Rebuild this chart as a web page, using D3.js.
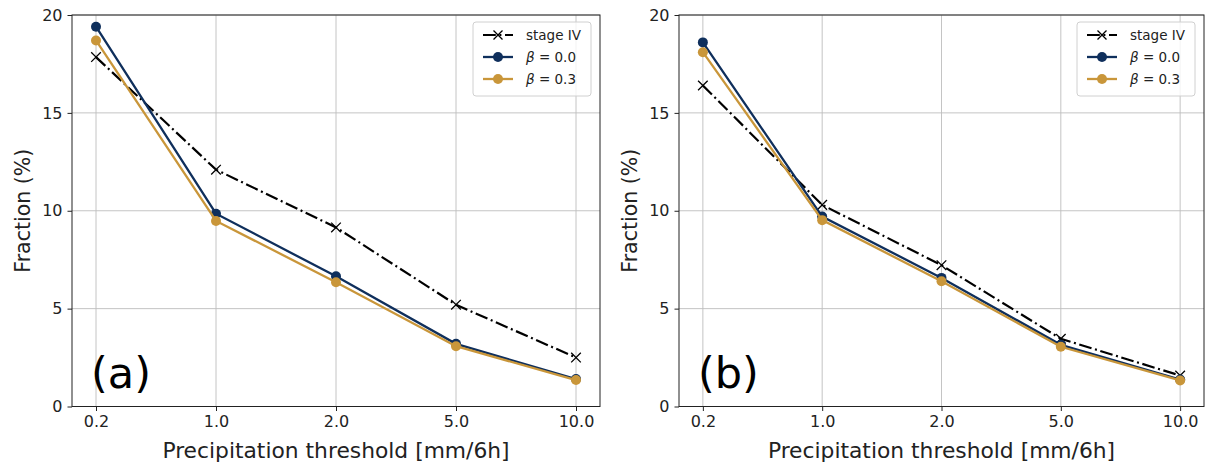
<!DOCTYPE html>
<html>
<head>
<meta charset="utf-8">
<script src="https://cdn.jsdelivr.net/npm/d3@7"></script>
<style>
body{margin:0;background:#fff}
svg{display:block;font-family:"DejaVu Sans",sans-serif}
</style>
</head>
<body>
<svg id="chart" width="1210" height="467"></svg>
<script>
// thresholds on the x axis
const thresholds = ["0.2", "1.0", "2.0", "5.0", "10.0"];
const yTicks = [0, 5, 10, 15, 20];

// panel (a)
const stageA = [17.85, 12.1, 9.15, 5.2, 2.5];
const beta0A = [19.4, 9.85, 6.65, 3.2, 1.4];
const beta3A = [18.7, 9.48, 6.35, 3.08, 1.35];

// panel (b)
const stageB = [16.4, 10.3, 7.22, 3.46, 1.58];
const beta0B = [18.6, 9.7, 6.57, 3.15, 1.38];
const beta3B = [18.1, 9.52, 6.4, 3.05, 1.33];

const NAVY = "#0f2f5c", GOLD = "#c9963a";
const DASHDOT = "12.8,3.6,2,3.6";
const svg = d3.select("#chart");

function panel(x0, x1, tag, stage, b0, b3) {
  const top = 15, bot = 406.5;
  // matplotlib keeps 0.2 of a step as margin at each end
  const step = (x1 - x0) / 4.4;
  const xs = d3.scalePoint().domain(thresholds).range([x0 + step * 0.2, x1 - step * 0.2]);
  const y = d3.scaleLinear().domain([0, 20]).range([bot, top]);
  const g = svg.append("g");

  // grid
  g.selectAll(".gx").data(thresholds).join("line")
    .attr("x1", d => xs(d)).attr("x2", d => xs(d)).attr("y1", top).attr("y2", bot)
    .attr("stroke", "#bdbdbd").attr("stroke-width", 0.9);
  g.selectAll(".gy").data(yTicks).join("line")
    .attr("x1", x0).attr("x2", x1).attr("y1", d => y(d)).attr("y2", d => y(d))
    .attr("stroke", "#bdbdbd").attr("stroke-width", 0.9);

  // axes
  const xa = g.append("g").attr("transform", `translate(0,${bot})`)
    .call(d3.axisBottom(xs).tickSize(4.5).tickPadding(5));
  const ya = g.append("g").attr("transform", `translate(${x0},0)`)
    .call(d3.axisLeft(y).tickValues(yTicks).tickSize(4.5).tickPadding(5));
  [xa, ya].forEach(a => {
    a.select(".domain").remove();
    a.selectAll("line").attr("stroke", "#222").attr("stroke-width", 1);
    a.selectAll("text").attr("font-size", 16).attr("fill", "#222")
      .attr("font-family", "DejaVu Sans");
  });

  const line = d3.line().x((d, i) => xs(thresholds[i])).y(d => y(d));

  // stage IV
  g.append("path").datum(stage).attr("d", line).attr("fill", "none")
    .attr("stroke", "#000").attr("stroke-width", 2.2).attr("stroke-dasharray", DASHDOT);
  g.selectAll(".xm").data(stage).join("path")
    .attr("d", (d, i) => {
      const cx = xs(thresholds[i]), cy = y(d), r = 4.8;
      return `M${cx - r},${cy - r}L${cx + r},${cy + r}M${cx - r},${cy + r}L${cx + r},${cy - r}`;
    })
    .attr("stroke", "#000").attr("stroke-width", 1.3);

  // beta lines
  [[b0, NAVY], [b3, GOLD]].forEach(([vals, col]) => {
    g.append("path").datum(vals).attr("d", line).attr("fill", "none")
      .attr("stroke", col).attr("stroke-width", 2.3);
    g.selectAll(null).data(vals).join("circle")
      .attr("cx", (d, i) => xs(thresholds[i])).attr("cy", d => y(d)).attr("r", 5)
      .attr("fill", col);
  });

  // frame
  g.append("rect").attr("x", x0).attr("y", top).attr("width", x1 - x0).attr("height", bot - top)
    .attr("fill", "none").attr("stroke", "#222").attr("stroke-width", 1);

  // labels
  g.append("text").attr("x", (x0 + x1) / 2).attr("y", 458).attr("text-anchor", "middle")
    .attr("font-size", 21.8).attr("fill", "#222").text("Precipitation threshold [mm/6h]");
  g.append("text").attr("transform", `translate(${x0 - 42},${(top + bot) / 2}) rotate(-90)`)
    .attr("text-anchor", "middle").attr("font-size", 20.5).attr("fill", "#222").text("Fraction (%)");
  g.append("text").attr("x", x0 + 19).attr("y", 388).attr("font-size", 43).attr("fill", "#000").text(tag);

  // legend
  const lx = x1 - 127, ly = 22;
  g.append("rect").attr("x", lx).attr("y", ly).attr("width", 118).attr("height", 74).attr("rx", 3)
    .attr("fill", "#fff").attr("fill-opacity", 0.8).attr("stroke", "#d0d0d0").attr("stroke-width", 1);
  const items = [["stage IV", "#000", "x"], ["β", NAVY, "0.0"], ["β", GOLD, "0.3"]];
  items.forEach(([lab, col, kind], i) => {
    const cy = ly + 13 + i * 22, sx = lx + 10, ex = lx + 40, mx = (sx + ex) / 2;
    if (kind === "x") {
      g.append("line").attr("x1", sx).attr("x2", ex).attr("y1", cy).attr("y2", cy)
        .attr("stroke", "#000").attr("stroke-width", 2.2).attr("stroke-dasharray", DASHDOT);
      g.append("path").attr("d", `M${mx - 4.5},${cy - 4.5}L${mx + 4.5},${cy + 4.5}M${mx - 4.5},${cy + 4.5}L${mx + 4.5},${cy - 4.5}`)
        .attr("stroke", "#000").attr("stroke-width", 1.3);
      g.append("text").attr("x", lx + 53).attr("y", cy + 5).attr("font-size", 13.5).attr("fill", "#222").text(lab);
    } else {
      g.append("line").attr("x1", sx).attr("x2", ex).attr("y1", cy).attr("y2", cy)
        .attr("stroke", col).attr("stroke-width", 2.3);
      g.append("circle").attr("cx", mx).attr("cy", cy).attr("r", 5).attr("fill", col);
      const t = g.append("text").attr("x", lx + 53).attr("y", cy + 5).attr("font-size", 13.5).attr("fill", "#222");
      t.append("tspan").attr("font-style", "italic").text(lab);
      t.append("tspan").text(" = " + kind);
    }
  });
}

panel(72, 600, "(a)", stageA, beta0A, beta3A);
panel(679, 1204, "(b)", stageB, beta0B, beta3B);
</script>
</body>
</html>
